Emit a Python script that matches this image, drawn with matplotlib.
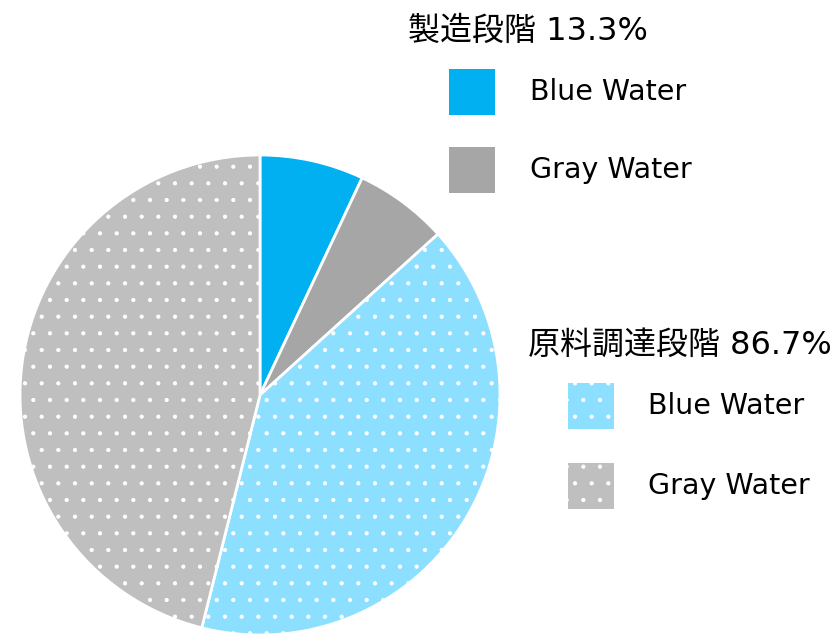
import matplotlib
matplotlib.use("Agg")
from matplotlib import pyplot as plt
from matplotlib.patches import Rectangle

plt.rcParams['font.family'] = ['DejaVu Sans', 'Noto Sans CJK JP']
plt.rcParams['hatch.color'] = 'white'
plt.rcParams['hatch.linewidth'] = 0.6

# data
stages = ["製造段階", "原料調達段階"]
stage_share = [13.3, 86.7]
kinds = ["Blue Water", "Gray Water"]
shares = [7.0, 6.3, 40.6, 46.1]   # manuf blue, manuf gray, raw blue, raw gray
colors = ['#00B0F0', '#A6A6A6', '#8CDFFF', '#BFBFBF']
hatches = [None, None, '.', '.']

fig = plt.figure(figsize=(8.37, 6.35), dpi=100)

ax = fig.add_axes([20 / 837, 0.0, 480 / 837, 480 / 635])
wedges, _ = ax.pie(shares, colors=colors, startangle=90, counterclock=False,
                   wedgeprops=dict(edgecolor='white', linewidth=2))
for w, h in zip(wedges, hatches):
    if h:
        w.set_hatch(h)
ax.set_xlim(-1, 1)
ax.set_ylim(-1, 1)
ax.set_aspect('equal')

# legend drawn in pixel space
lg = fig.add_axes([0, 0, 1, 1])
lg.set_xlim(0, 837)
lg.set_ylim(635, 0)
lg.axis('off')

title_pos = [(408, 31), (528, 345)]
box_x = [449, 568]
text_x = [530, 648]
rows_y = [[92, 170], [406, 486]]

for i in range(2):
    lg.text(title_pos[i][0], title_pos[i][1], f"{stages[i]} {stage_share[i]}%",
            fontsize=23, va='center', ha='left')
    for j in range(2):
        k = i * 2 + j
        r = Rectangle((box_x[i], rows_y[i][j] - 23), 46, 46, facecolor=colors[k],
                      edgecolor='white', linewidth=0, hatch=hatches[k])
        lg.add_patch(r)
        lg.text(text_x[i], rows_y[i][j], kinds[j], fontsize=20.5, va='center', ha='left')

fig.savefig("out.png", dpi=100)
